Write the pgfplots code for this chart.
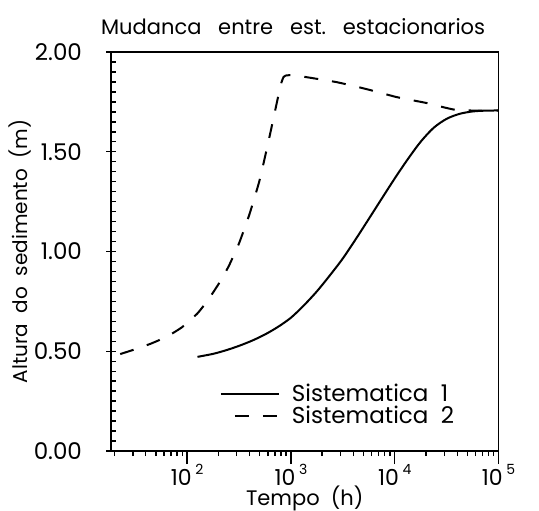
\documentclass[border=0pt]{standalone}
\usepackage{fontspec}
\setmainfont{Poppins}
\usepackage{pgfplots}
\pgfplotsset{compat=1.18}
\newcommand{\tl}[1]{10\,\raisebox{0.95ex}{\fontsize{7}{8}\selectfont #1}}
\begin{document}
\begin{tikzpicture}
\begin{axis}[
  name=ax,
  at={(0,0)}, anchor=south west,
  scale only axis, width=193.75pt, height=199.5pt,
  xmode=log, xmin=18.5, xmax=1e5,
  ymin=0, ymax=2,
  ytick={0,0.5,1,1.5,2},
  minor ytick={0.05,0.1,...,1.96},
  xtick={100,1000,10000,100000},
  minor xtick={20,30,40,50,60,70,80,90,200,300,400,500,600,700,800,900,2000,3000,4000,5000,6000,7000,8000,9000,20000,30000,40000,50000,60000,70000,80000,90000},
  xticklabels={\tl{2},\tl{3},\tl{4},\tl{5}},
  yticklabel style={/pgf/number format/fixed,/pgf/number format/fixed zerofill,/pgf/number format/precision=2,/pgf/number format/assume math mode=true, font=\fontsize{11.5}{13}\selectfont, xshift=-11pt},
  xticklabel style={font=\fontsize{11}{13}\selectfont, yshift=-3pt},
  tick align=inside,
  major tick length=2.5pt, minor tick length=2.5pt,
  x tick style={yshift=-2.5pt},
  xtick pos=bottom, ytick pos=left,
  extra x ticks={100,1000,10000,100000}, extra x tick labels={},
  extra x tick style={tick align=outside, major tick length=4pt},
  extra y ticks={0,0.5,1,1.5,2}, extra y tick labels={},
  extra y tick style={tick align=outside, major tick length=2.5pt},
  axis line style={line width=0.9pt},
  every tick/.append style={black, line width=0.7pt},
  font=\fontsize{10.5}{12}\selectfont,
  title={Mudanca\ \ \ entre\ \ \ est.\ \ \ estacionarios},
  title style={at={(0.47,1)}, anchor=south, yshift=-1pt},
  xlabel={Tempo\ \ (h)},
  ylabel={Altura\ \ do\ \ sedimento\ \ (m)},
  xlabel style={at={(axis description cs:0.5,-0.118)}, anchor=center},
  ylabel style={at={(axis description cs:-0.235,0.5)}, anchor=center, font=\fontsize{10}{12}\selectfont},
  legend style={at={(0.28,0.05)}, anchor=south west, draw=none, fill=none, row sep=-3pt, column sep=4pt, inner sep=0pt, font=\fontsize{11.5}{13}\selectfont},
  legend cell align=left,
  legend image code/.code={\draw[#1] (0pt,0pt) -- (29pt,0pt);},
  legend image post style={dash phase=7pt},
]
\addplot[black, line width=1pt, smooth] coordinates {
 (126,0.472) (178,0.487) (237,0.505) (316,0.527) (422,0.553) (562,0.584)
 (750,0.622) (1000,0.668) (1334,0.73) (1778,0.80) (2371,0.88) (3162,0.965)
 (4217,1.062) (5623,1.163) (7499,1.265) (10000,1.366) (13335,1.462) (17783,1.55)
 (23714,1.62) (31623,1.665) (42170,1.69) (56234,1.702) (74989,1.706) (100000,1.707)
};
\addlegendentry{Sistematica\ \ 1}
\addplot[black, line width=1pt, dash pattern=on 7pt off 7pt, smooth, tension=0.3] coordinates {
 (22.7,0.486) (31.6,0.51) (44.7,0.538) (63.1,0.572) (89.1,0.62) (126,0.69)
 (158,0.755) (200,0.835) (251,0.925) (316,1.04) (398,1.185) (501,1.36)
 (631,1.59) (794,1.83) (851,1.875) (891,1.882) (1000,1.884) (1259,1.878)
 (2754,1.849) (5358,1.814) (10450,1.774) (20370,1.744) (39700,1.709) (100000,1.706)
};
\addlegendentry{Sistematica\ \ 2}
\end{axis}
\pgfresetboundingbox
\path[use as bounding box] (-55.5pt,-29.5pt) rectangle (214pt,225.5pt);
\end{tikzpicture}
\end{document}
